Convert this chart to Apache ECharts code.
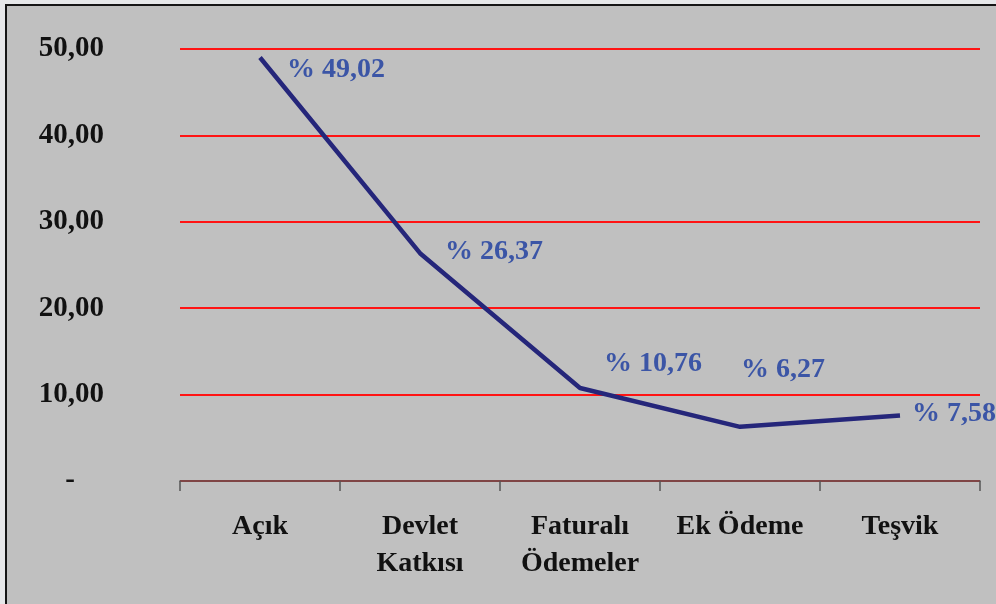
<!DOCTYPE html>
<html lang="tr">
<head>
    <meta charset="UTF-8">
    <title>Chart</title>
    <style>
        html, body { margin: 0; padding: 0; background: #e6e7e9; overflow: hidden; }
        #chart-box {
            position: absolute; left: 5px; top: 4px;
            width: 1000px; height: 610px;
            background: #c0c0c0;
            border-left: 2px solid #151515;
            border-top: 2px solid #151515;
        }
    </style>
</head>
<body>
    <div id="chart-box"></div>
    <script src="https://cdn.jsdelivr.net/npm/echarts@6/dist/echarts.min.js"></script>
    <script>
    // kategoriler ve değerler
    var categories = ['Açık', 'Devlet\nKatkısı', 'Faturalı\nÖdemeler', 'Ek Ödeme', 'Teşvik'];
    var values = [49.02, 26.37, 10.76, 6.27, 7.58];
    // etiket kaydırmaları (Excel'deki gibi elle yerleştirilmiş)
    var labelOffsets = [[27, 12], [25, -1], [24, -24], [1, -57], [12, -2]];

    var serif = '"Liberation Serif", "DejaVu Serif", serif';

    var chart = echarts.init(document.getElementById('chart-box'));
    chart.setOption({
        animation: false,
        grid: { left: 173, top: 43, width: 800, height: 432 },
        xAxis: {
            type: 'category',
            data: categories,
            boundaryGap: true,
            axisLine: { lineStyle: { color: '#555', width: 1.5 } },
            axisTick: { show: true, length: 10, lineStyle: { color: '#555', width: 1.5 } },
            axisLabel: {
                interval: 0,
                margin: 27,
                color: '#111',
                fontFamily: serif,
                fontWeight: 'bold',
                fontSize: 28,
                lineHeight: 37
            },
            splitLine: { show: false }
        },
        yAxis: {
            type: 'value',
            min: 0,
            max: 50,
            interval: 10,
            axisLine: { show: false },
            axisTick: { show: false },
            axisLabel: {
                margin: 76,
                color: '#111',
                fontFamily: serif,
                fontWeight: 'bold',
                fontSize: 29,
                formatter: function (v) {
                    if (v === 0) return '{z|-}';
                    return v.toFixed(2).replace('.', ',');
                },
                rich: {
                    z: { fontFamily: serif, fontWeight: 'bold', fontSize: 29, color: '#111', padding: [0, 29, 0, 0] }
                }
            },
            splitLine: { lineStyle: { color: '#ff1414', width: 1.8 } }
        },
        series: [{
            type: 'line',
            data: values.map(function (v, i) {
                return {
                    value: v,
                    label: { offset: labelOffsets[i] }
                };
            }),
            symbol: 'circle',
            symbolSize: 0,
            showSymbol: true,
            itemStyle: { color: '#25267a', borderWidth: 0 },
            lineStyle: { color: '#25267a', width: 4.5 },
            label: {
                show: true,
                position: 'right',
                distance: 0,
                color: '#3b55a6',
                fontFamily: serif,
                fontWeight: 'bold',
                fontSize: 28,
                formatter: function (p) {
                    return '% ' + p.value.toFixed(2).replace('.', ',');
                }
            }
        }]
    });
    </script>
</body>
</html>
